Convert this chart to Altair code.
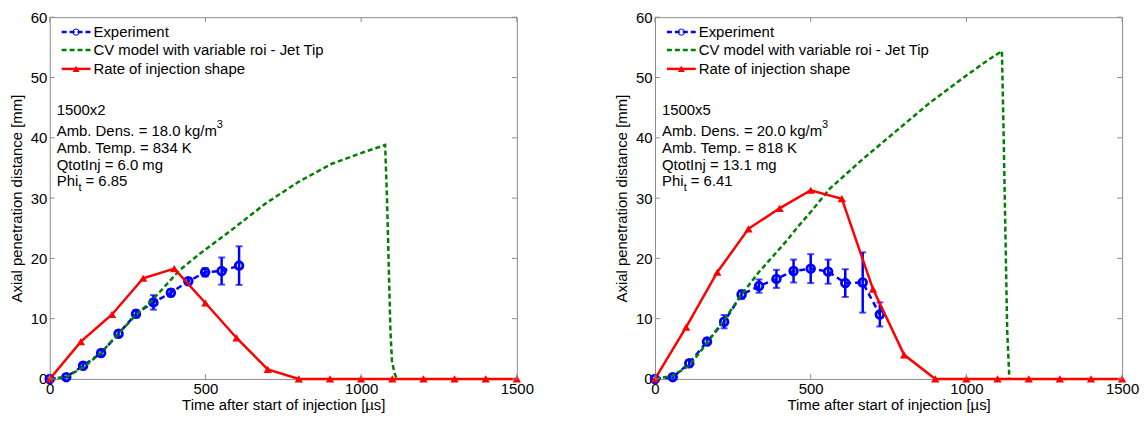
import altair as alt
import pandas as pd

# ---------------- data ----------------
roi_t = [0, 100, 200, 300, 400, 500, 600, 700, 800, 900, 1000, 1100, 1200, 1300, 1400, 1500]

# Left panel (1500x2)
expL_t = [0, 53, 107, 165, 221, 277, 333, 389, 445, 499, 552, 608]
expL_y = [0, 0.3, 2.2, 4.3, 7.5, 10.8, 12.7, 14.3, 16.2, 17.7, 17.9, 18.8]
expL_e = [0, 0.1, 0.3, 0.4, 0.5, 0.6, 1.2, 0.6, 0.5, 0.7, 2.25, 3.2]
cvL_t = [0, 55, 110, 166, 222, 277, 330, 416, 480, 586, 693, 799, 906, 1013, 1077, 1083, 1089, 1094, 1099, 1106, 1114]
cvL_y = [0, 0.4, 2.0, 4.4, 7.6, 10.6, 13.1, 18.0, 20.7, 24.8, 29.1, 32.7, 35.7, 37.7, 38.8, 30, 18, 8, 3, 1.2, 0]
roiL_y = [0, 6.2, 10.7, 16.7, 18.3, 12.6, 6.8, 1.6, 0, 0, 0, 0, 0, 0, 0, 0]
txtL = ["1500x2", "Amb. Dens. = 18.0 kg/m", "Amb. Temp. = 834 K", "QtotInj = 6.0 mg", "= 6.85"]

# Right panel (1500x5)
expR_t = [0, 57, 110, 167, 222, 278, 334, 390, 445, 500, 556, 611, 667, 722]
expR_y = [0, 0.3, 2.6, 6.2, 9.5, 14.0, 15.4, 16.6, 17.9, 18.3, 17.8, 15.9, 16.0, 10.7]
expR_e = [0, 0.2, 0.5, 0.5, 1.1, 0.7, 1.1, 1.5, 1.9, 2.4, 2.0, 2.3, 5.0, 2.0]
cvR_t = [0, 55, 110, 160, 222, 277, 333, 390, 424, 455, 500, 562, 668, 774, 880, 986, 1050, 1114, 1119, 1125, 1131, 1138]
cvR_y = [0, 0.5, 2.2, 5.5, 9.8, 13.9, 17.7, 21.0, 23.0, 25.0, 27.7, 31.6, 36.5, 41.1, 45.7, 49.8, 52.2, 54.4, 42, 25, 8, 0]
roiR_y = [0, 8.6, 17.7, 24.9, 28.3, 31.3, 29.9, 14.9, 4.0, 0, 0, 0, 0, 0, 0, 0]
txtR = ["1500x5", "Amb. Dens. = 20.0 kg/m", "Amb. Temp. = 818 K", "QtotInj = 13.1 mg", "= 6.41"]

legend_labels = ["Experiment", "CV model with variable roi - Jet Tip", "Rate of injection shape"]
x_ticks = [0, 500, 1000, 1500]
y_ticks = [0, 10, 20, 30, 40, 50, 60]

X_TITLE = "Time after start of injection [\u00b5s]"
Y_TITLE = "Axial penetration distance [mm]"

W, H = 470, 364
FONT = "Liberation Sans"
FS = 15
BLUE, GREEN, RED, GRAY = "#0000FF", "#008000", "#FF0000", "#8c8c8c"

xs = alt.Scale(domain=[0, 1500], nice=False, zero=False)
ys = alt.Scale(domain=[0, 60], nice=False, zero=False)
xaxis = alt.Axis(values=x_ticks, format="d", grid=False, ticks=False, domain=False,
                 labelPadding=3, titlePadding=1, labelFlush=False)
yaxis = alt.Axis(values=y_ticks, format="d", grid=False, ticks=False, domain=False,
                 labelPadding=3, titlePadding=6)


def X(f):
    return alt.X(f, scale=xs, axis=xaxis, title=X_TITLE)


def Y(f):
    return alt.Y(f, scale=ys, axis=yaxis, title=Y_TITLE)


def txt(s, x, y, size=FS):
    return alt.Chart(pd.DataFrame({"s": [s]})).mark_text(
        align="left", baseline="middle", font=FONT, fontSize=size, color="black"
    ).encode(x=alt.value(x), y=alt.value(y), text="s:N")


def panel(et, ey, ee, ct, cy, ry, texts):
    exp = pd.DataFrame({"t": et, "y": ey, "lo": [a - b for a, b in zip(ey, ee)],
                        "hi": [a + b for a, b in zip(ey, ee)]})
    cv = pd.DataFrame({"t": ct, "y": cy})
    roi = pd.DataFrame({"t": roi_t, "y": ry})
    xt = pd.DataFrame({"t": x_ticks})
    yt = pd.DataFrame({"y": y_ticks})

    layers = []
    layers.append(alt.Chart(exp).mark_line(color=BLUE, strokeWidth=2.5, strokeDash=[6, 4])
                  .encode(x=X("t:Q"), y=Y("y:Q")))
    layers.append(alt.Chart(exp).mark_rule(color=BLUE, strokeWidth=2.5)
                  .encode(x=X("t:Q"), y=Y("lo:Q"), y2="hi:Q"))
    for f in ["lo", "hi"]:
        layers.append(alt.Chart(exp).mark_tick(color=BLUE, orient="horizontal", size=7, thickness=2)
                      .encode(x=X("t:Q"), y=Y(f + ":Q")))
    layers.append(alt.Chart(exp).mark_point(shape="circle", filled=False, color=BLUE,
                                            strokeWidth=2.8, size=60, opacity=1)
                  .encode(x=X("t:Q"), y=Y("y:Q")))
    layers.append(alt.Chart(cv).mark_line(color=GREEN, strokeWidth=2.5, strokeDash=[5, 3])
                  .encode(x=X("t:Q"), y=Y("y:Q")))
    layers.append(alt.Chart(roi).mark_line(color=RED, strokeWidth=2.5)
                  .encode(x=X("t:Q"), y=Y("y:Q")))
    layers.append(alt.Chart(roi).mark_point(shape="triangle-up", filled=True, color=RED,
                                            size=70, opacity=1)
                  .encode(x=X("t:Q"), y=Y("y:Q")))
    # inward ticks
    layers.append(alt.Chart(xt).mark_rule(color=GRAY, strokeWidth=1)
                  .encode(x=X("t:Q"), y=alt.value(H), y2=alt.value(H - 5)))
    layers.append(alt.Chart(xt).mark_rule(color=GRAY, strokeWidth=1)
                  .encode(x=X("t:Q"), y=alt.value(0), y2=alt.value(5)))
    layers.append(alt.Chart(yt).mark_rule(color=GRAY, strokeWidth=1)
                  .encode(y=Y("y:Q"), x=alt.value(0), x2=alt.value(5)))
    layers.append(alt.Chart(yt).mark_rule(color=GRAY, strokeWidth=1)
                  .encode(y=Y("y:Q"), x=alt.value(W), x2=alt.value(W - 5)))

    # legend
    one = pd.DataFrame({"k": [0]})
    ly = [15, 33, 52]
    layers.append(alt.Chart(one).mark_rule(color=BLUE, strokeWidth=2.5, strokeDash=[5, 3])
                  .encode(x=alt.value(12), x2=alt.value(41), y=alt.value(ly[0])))
    layers.append(alt.Chart(one).mark_point(shape="circle", filled=False, color=BLUE,
                                            strokeWidth=1, size=40, opacity=1)
                  .encode(x=alt.value(26.5), y=alt.value(ly[0])))
    layers.append(alt.Chart(one).mark_rule(color=GREEN, strokeWidth=2.5, strokeDash=[5, 3])
                  .encode(x=alt.value(12), x2=alt.value(41), y=alt.value(ly[1])))
    layers.append(alt.Chart(one).mark_rule(color=RED, strokeWidth=2.5)
                  .encode(x=alt.value(12), x2=alt.value(41), y=alt.value(ly[2])))
    layers.append(alt.Chart(one).mark_point(shape="triangle-up", filled=True, color=RED,
                                            size=50, opacity=1)
                  .encode(x=alt.value(26.5), y=alt.value(ly[2])))
    for lab, yy in zip(legend_labels, ly):
        layers.append(txt(lab, 44, yy))

    # annotation text
    layers.append(txt(texts[0], 7, 93))
    layers.append(txt(texts[1], 7, 115))
    layers.append(txt("3", 168, 108, 11))
    layers.append(txt(texts[2], 7, 132))
    layers.append(txt(texts[3], 7, 149))
    layers.append(txt("Phi", 7, 165))
    layers.append(txt("t", 29, 172, 11))
    layers.append(txt(texts[4], 36, 165))

    return alt.layer(*layers).properties(width=W, height=H)


left = panel(expL_t, expL_y, expL_e, cvL_t, cvL_y, roiL_y, txtL)
right = panel(expR_t, expR_y, expR_e, cvR_t, cvR_y, roiR_y, txtR)

chart = alt.hconcat(left, right, spacing=79).configure_view(
    stroke=GRAY, strokeWidth=1
).configure_axis(
    labelFont=FONT, labelFontSize=FS, labelColor="black",
    titleFont=FONT, titleFontSize=FS, titleFontWeight="normal", titleColor="black"
).properties(background="white", padding=0)

chart.save("out.html", embed_options={"renderer": "svg", "actions": False})
